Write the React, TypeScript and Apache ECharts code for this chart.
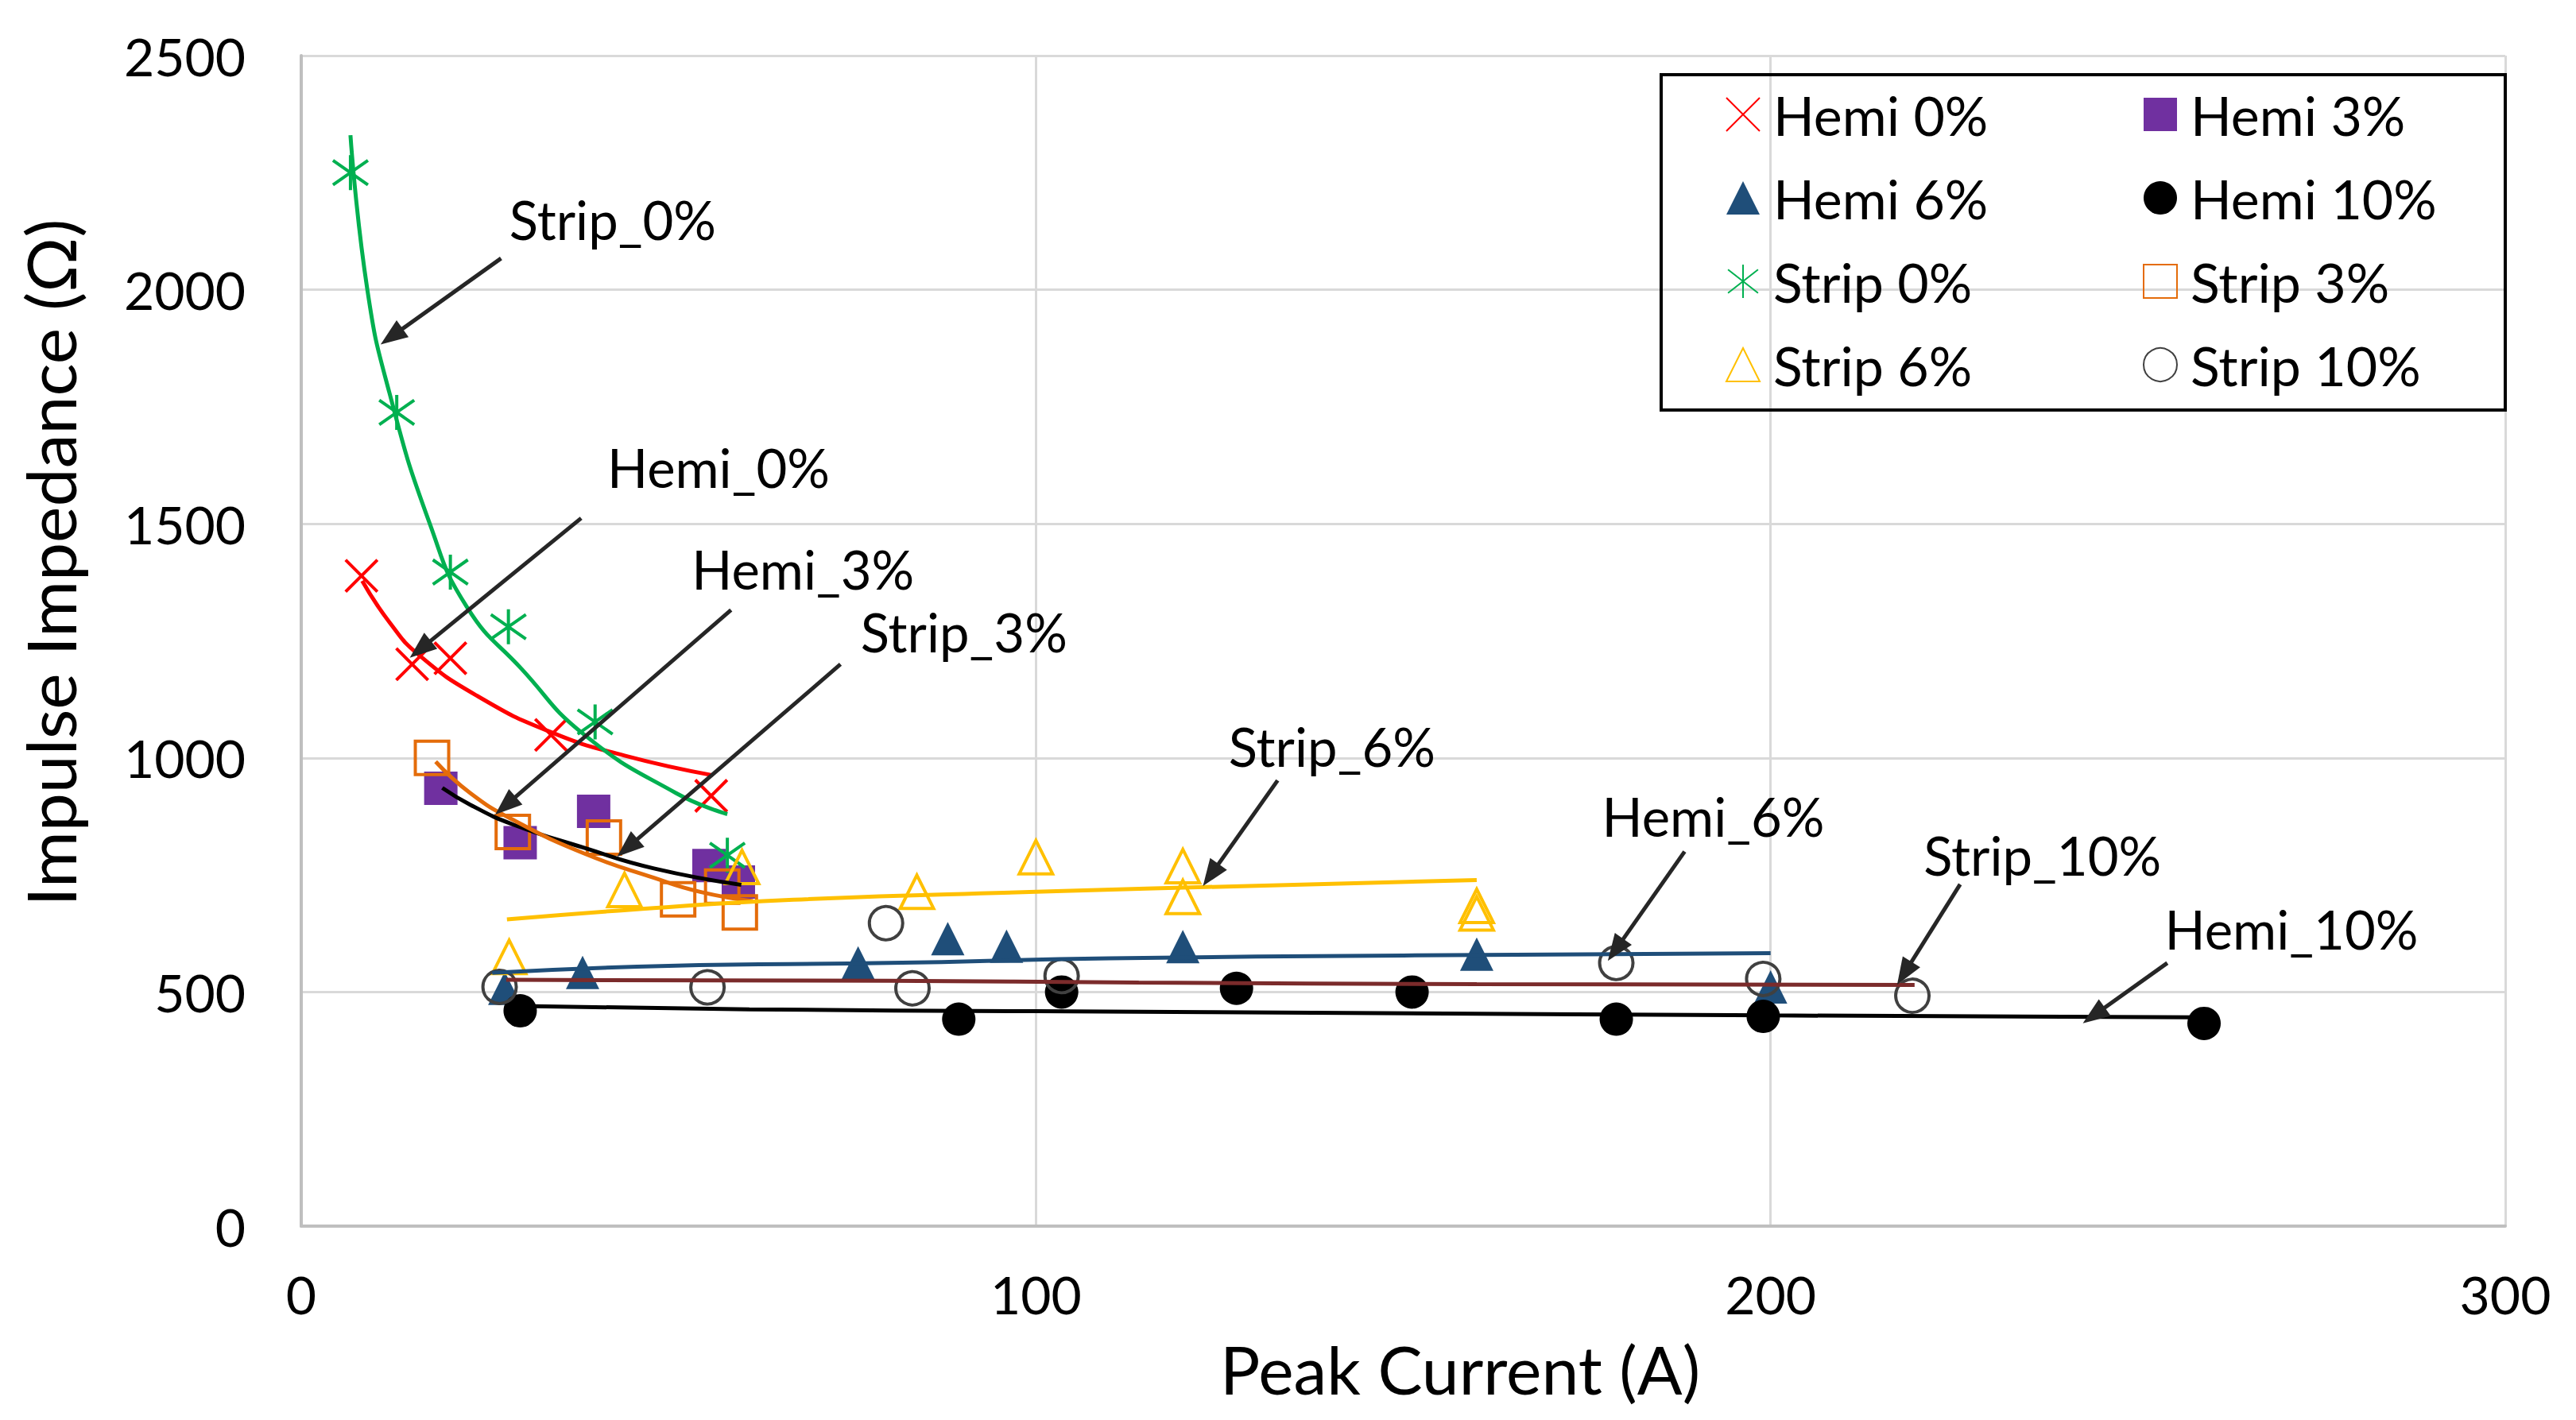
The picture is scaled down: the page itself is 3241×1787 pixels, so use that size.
import React, { useEffect, useRef } from "react";
import * as echarts from "echarts";

// ---- measured points ----
const hemi0 = [[8.2, 1389], [15.1, 1200], [20.3, 1213], [34, 1049], [55.8, 919]];
const hemi3 = [[19, 935], [29.8, 819], [39.8, 886], [55.5, 770], [59.5, 735]];
const hemi6 = [[27.7, 508], [38.3, 542], [75.8, 562], [88, 614], [96, 598], [120, 597], [160, 581], [200, 511]];
const hemi10 = [[29.8, 460], [89.5, 442], [103.5, 500], [127.3, 508], [151.2, 500], [179, 442], [199, 448], [259, 433]];
const strip0 = [[6.7, 2250], [13, 1738], [20.3, 1397], [28.2, 1280], [40, 1077], [58, 792]];
const strip3 = [[17.8, 1000], [28.8, 842], [41.2, 830], [51.3, 698], [57.3, 725], [59.7, 670]];
const strip6 = [[28.3, 575], [44, 718], [60, 767], [83.8, 714], [100, 788], [120, 769], [120, 703], [160, 684], [160, 668]];
const strip10 = [[27, 511], [55.3, 510], [79.6, 647], [83.2, 508], [103.5, 534], [179, 562], [199, 528], [219.3, 492]];

// ---- trend lines ----
const trendHemi0 = [[8.3, 1378], [12, 1290], [16, 1220], [24, 1132], [34, 1055], [44, 1005], [56, 963]];
const trendStrip0 = [[6.7, 2330], [9, 2000], [12, 1780], [17.5, 1500], [22.6, 1321], [30, 1190], [38.5, 1050], [51, 925], [58, 880]];
const trendHemi3 = [[19.2, 936], [23, 900], [28.8, 858], [38.5, 808], [48, 764], [59.9, 729]];
const trendStrip3 = [[18.3, 992], [23, 925], [28.8, 868], [38.5, 796], [48, 744], [54.3, 714], [61.5, 694]];
const trendStrip6 = [[28, 655], [45, 676], [67, 697], [100, 714], [130, 727], [160, 739]];
const trendHemi6 = [[26, 541], [50, 556], [80, 562], [110, 572], [150, 578], [200, 583]];
const trendHemi10 = [[29.8, 470], [61, 463], [100, 459], [147, 455], [200, 450], [258, 446]];
const trendStrip10 = [[27.9, 526], [80, 524], [114, 520], [160, 517], [219.6, 515]];

// ---- annotations ----
const annotationNames = ["Strip_0%", "Hemi_0%", "Hemi_3%", "Strip_3%", "Strip_6%", "Hemi_6%", "Strip_10%", "Hemi_10%"];
const annotationPos = [[42.4, 2151], [56.8, 1620], [68.3, 1404], [90.2, 1270], [140.3, 1025], [192.2, 876], [237, 793], [270.9, 635]];
// tail x, tail y, tip x, tip y
const arrowLines = [
  [27.2, 2067, 12.3, 1900],
  [38.1, 1512, 16.2, 1232],
  [58.5, 1316, 27.8, 898],
  [73.4, 1200, 44.4, 808],
  [132.9, 952, 123.8, 750],
  [188.3, 800, 178.9, 590],
  [225.8, 730, 218.2, 540],
  [254, 562, 244, 450],
];

const xTicks = [0, 100, 200, 300];
const yTicks = [0, 500, 1000, 1500, 2000, 2500];

const FONT = "Lato";

const X_PATH = "path://M0,0L10,10M10,0L0,10";
const STAR_PATH = "path://M5,0L5,10M0.5,1.5L9.5,8.5M9.5,1.5L0.5,8.5";

export default function App() {
  const ref = useRef<HTMLDivElement>(null);
  useEffect(() => {
    if (!ref.current) return;
    const chart = echarts.init(ref.current, null, { renderer: "svg" });
    const msize = 42;
    const scatter = (name: string, data: number[][], symbol: string, itemStyle: any, size = msize) => ({
      name,
      type: "scatter",
      data,
      symbol,
      symbolSize: size,
      itemStyle: { opacity: 1, ...itemStyle },
      z: 3,
    });
    const trend = (name: string, data: number[][], color: string) => ({
      name,
      type: "line",
      data,
      smooth: true,
      showSymbol: false,
      symbol: "none",
      lineStyle: { color, width: 5 },
      z: 4,
      silent: true,
    });
    const option: any = {
      animation: false,
      backgroundColor: "#fff",
      textStyle: { fontFamily: FONT },
      grid: { left: 379, right: 89, top: 70, bottom: 244, containLabel: false },
      xAxis: {
        type: "value",
        min: xTicks[0],
        max: xTicks[xTicks.length - 1],
        interval: 100,
        axisLine: { show: true, lineStyle: { color: "#bfbfbf", width: 4 } },
        axisTick: { show: false },
        axisLabel: { fontSize: 66, color: "#000", margin: 52, fontFamily: FONT },
        splitLine: { show: true, lineStyle: { color: "#d9d9d9", width: 3 } },
      },
      yAxis: {
        type: "value",
        min: yTicks[0],
        max: yTicks[yTicks.length - 1],
        interval: 500,
        axisLine: { show: true, lineStyle: { color: "#bfbfbf", width: 4 } },
        axisTick: { show: false },
        axisLabel: {
          fontSize: 66,
          color: "#000",
          margin: 70,
          fontFamily: FONT,
          formatter: (v: number) => String(v),
        },
        splitLine: { show: true, lineStyle: { color: "#d9d9d9", width: 3 } },
      },
      legend: [
        {
          orient: "vertical",
          left: 2171,
          top: 110,
          padding: 0,
          itemGap: 37,
          itemWidth: 42,
          itemHeight: 42,
          data: ["Hemi 0%", "Hemi 6%", "Strip 0%", "Strip 6%"],
          textStyle: { fontSize: 68, color: "#000", fontFamily: FONT, padding: [0, 0, 0, 12] },
          selectedMode: false,
        },
        {
          orient: "vertical",
          left: 2696,
          top: 110,
          padding: 0,
          itemGap: 37,
          itemWidth: 42,
          itemHeight: 42,
          data: ["Hemi 3%", "Hemi 10%", "Strip 3%", "Strip 10%"],
          textStyle: { fontSize: 68, color: "#000", fontFamily: FONT, padding: [0, 0, 0, 12] },
          selectedMode: false,
        },
      ],
      graphic: [
        {
          type: "rect",
          shape: { x: 2090, y: 94, width: 1062, height: 422 },
          style: { fill: "none", stroke: "#000", lineWidth: 4 },
          z: 10,
          silent: true,
        },
        {
          type: "text",
          x: 62,
          y: 708,
          rotation: Math.PI / 2,
          style: {
            text: "Impulse Impedance (Ω)",
            fontSize: 86,
            fontFamily: FONT,
            fill: "#000",
            align: "center",
            verticalAlign: "middle",
          },
        },
        {
          type: "text",
          x: 1837,
          y: 1722,
          style: {
            text: "Peak Current (A)",
            fontSize: 84,
            fontFamily: FONT,
            fill: "#000",
            align: "center",
            verticalAlign: "middle",
          },
        },
      ],
      series: [
        scatter("Hemi 0%", hemi0, X_PATH, { color: "#FF0000", borderColor: "#FF0000", borderWidth: 4 }, 40),
        scatter("Hemi 3%", hemi3, "rect", { color: "#7030A0" }),
        scatter("Hemi 6%", hemi6, "triangle", { color: "#1F4E79" }),
        scatter("Hemi 10%", hemi10, "circle", { color: "#000000" }),
        scatter("Strip 0%", strip0, STAR_PATH, { color: "#00B050", borderColor: "#00B050", borderWidth: 4 }, 44),
        scatter("Strip 3%", strip3, "rect", { color: "rgba(255,255,255,0)", borderColor: "#E46C0A", borderWidth: 4 }),
        scatter("Strip 6%", strip6, "triangle", { color: "rgba(255,255,255,0)", borderColor: "#FFC000", borderWidth: 4 }),
        scatter("Strip 10%", strip10, "circle", { color: "rgba(255,255,255,0)", borderColor: "#404040", borderWidth: 4 }),
        trend("Hemi 0% trend", trendHemi0, "#FF0000"),
        trend("Strip 0% trend", trendStrip0, "#00B050"),
        trend("Hemi 3% trend", trendHemi3, "#000000"),
        trend("Strip 3% trend", trendStrip3, "#E46C0A"),
        trend("Strip 6% trend", trendStrip6, "#FFC000"),
        trend("Hemi 6% trend", trendHemi6, "#1F4E79"),
        trend("Hemi 10% trend", trendHemi10, "#000000"),
        trend("Strip 10% trend", trendStrip10, "#7B2B2B"),
        {
          name: "annotations",
          type: "scatter",
          data: annotationNames.map((n, i) => ({ name: n, value: annotationPos[i] })),
          symbolSize: 1,
          itemStyle: { color: "rgba(0,0,0,0)", opacity: 1 },
          silent: true,
          z: 6,
          label: {
            show: true,
            position: "inside",
            formatter: "{b}",
            fontSize: 67,
            color: "#000",
            opacity: 1,
            fontFamily: FONT,
          },
          markLine: {
            silent: true,
            symbol: ["none", "triangle"],
            symbolSize: [26, 34],
            label: { show: false },
            lineStyle: { color: "#262626", width: 5, type: "solid", opacity: 1 },
            itemStyle: { color: "#000" },
            data: arrowLines.map((a) => [{ coord: [a[0], a[1]] }, { coord: [a[2], a[3]] }]),
          },
        },
      ],
    };
    chart.setOption(option);
    return () => chart.dispose();
  }, []);
  return (
    <div
      ref={ref}
      style={{ position: "fixed", left: 0, top: 0, width: 3241, height: 1787, background: "#fff" }}
    />
  );
}
